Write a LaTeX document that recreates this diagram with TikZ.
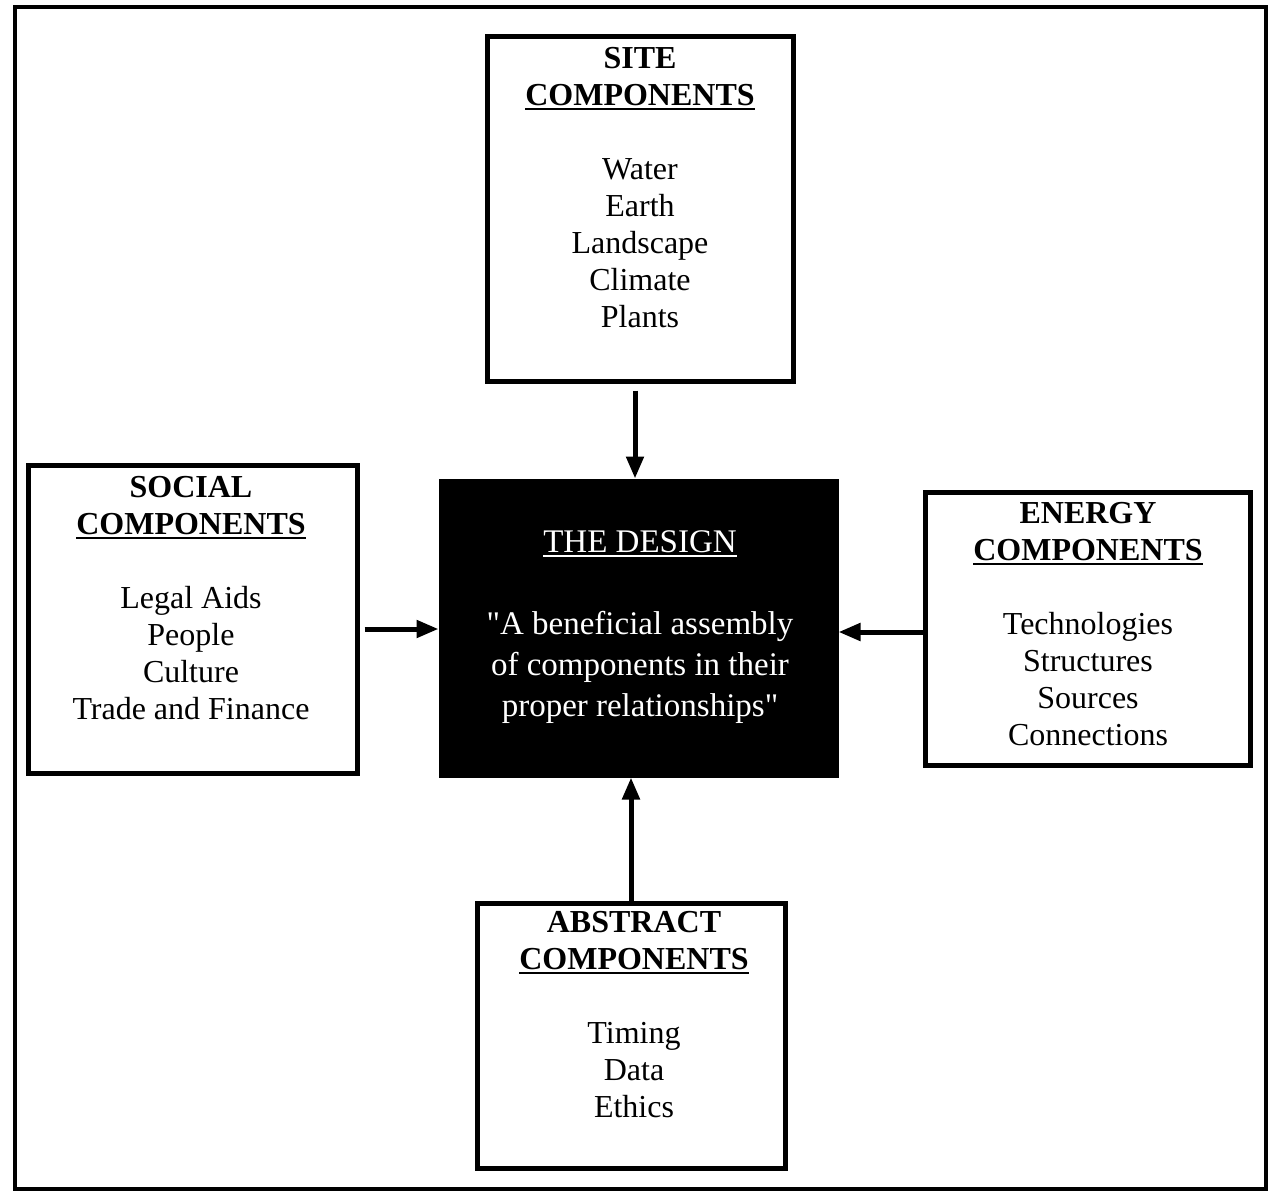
\documentclass[tikz,border=0pt]{standalone}
\usepackage{fontspec}
\setmainfont{Liberation Serif}
\newfontfamily\designfont[Ligatures=TeXOff]{Liberation Serif}
\usetikzlibrary{arrows.meta}
\newcommand\myuline[1]{\setbox0\hbox{#1}\rlap{\rule[-5pt]{\wd0}{2.2pt}}\box0}
\begin{document}
\begin{tikzpicture}[x=1pt,y=-1pt,
  box/.style={draw, line width=5pt, rectangle, inner sep=0pt},
  txt/.style={align=center, anchor=base, inner sep=0pt, font=\fontsize{32}{37}\selectfont},
  arr/.style={line width=5pt, -{Triangle[length=22pt,width=17pt]}}]
\useasboundingbox (0,0) rectangle (1275,1194);
% outer frame
\node[draw, line width=4pt, minimum width=1251pt, minimum height=1182pt, inner sep=0pt] (frame) at (640.5,598) {};
% boxes
\node[box, minimum width=306pt, minimum height=345pt] (site) at (640,208.5) {};
\node[box, minimum width=329pt, minimum height=308pt] (social) at (192.5,619) {};
\node[box, minimum width=325pt, minimum height=273pt] (energy) at (1087.5,628.5) {};
\node[box, minimum width=308pt, minimum height=265pt] (abstract) at (631,1035.5) {};
\node[box, fill=black, minimum width=395pt, minimum height=294pt] (design) at (638.5,628) {};
% texts (anchor at baseline of last line)
\node[txt] (sitetxt) at (640,327) {\textbf{SITE}\\\textbf{\myuline{COMPONENTS}}\\[37pt]Water\\Earth\\Landscape\\Climate\\Plants};
\node[txt] (socialtxt) at (191,719) {\textbf{SOCIAL}\\\textbf{\myuline{COMPONENTS}}\\[37pt]Legal Aids\\People\\Culture\\Trade and Finance};
\node[txt] (energytxt) at (1088,745) {\textbf{ENERGY}\\\textbf{\myuline{COMPONENTS}}\\[37pt]Technologies\\Structures\\Sources\\Connections};
\node[txt] (abstracttxt) at (634,1117) {\textbf{ABSTRACT}\\\textbf{\myuline{COMPONENTS}}\\[37pt]Timing\\Data\\Ethics};
\node[txt, text=white, font=\designfont\fontsize{33}{41}\selectfont] (designtxt) at (640,716) {\myuline{THE DESIGN}\\[41pt]"A beneficial assembly\\of components in their\\proper relationships"};
% connectors
\draw[arr] ([xshift=-5pt,yshift=-7pt]site.south) -- ([xshift=-3.5pt]design.north);
\draw[arr] ([xshift=5pt,yshift=-10pt]social.east) -- ([yshift=-1pt]design.west);
\draw[arr] ([yshift=-3.5pt]energy.west) -- ([yshift=-4pt]design.east);
\draw[arr] (abstract.north) -- ([xshift=-7.5pt]design.south);
\end{tikzpicture}
\end{document}
